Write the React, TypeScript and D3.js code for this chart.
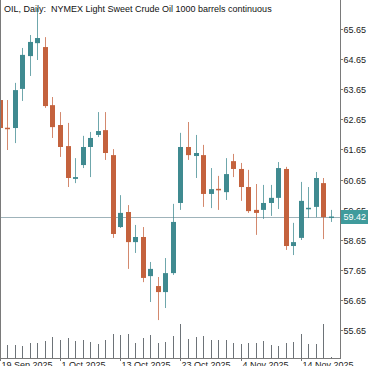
import { useEffect, useRef } from "react";
import * as d3 from "d3";

const dates = [
  "19 Sep", "22 Sep", "23 Sep", "24 Sep", "25 Sep", "26 Sep", "29 Sep", "30 Sep",
  "1 Oct", "2 Oct", "3 Oct", "6 Oct", "7 Oct", "8 Oct", "9 Oct", "10 Oct",
  "13 Oct", "14 Oct", "15 Oct", "16 Oct", "17 Oct", "20 Oct", "21 Oct", "22 Oct",
  "23 Oct", "24 Oct", "27 Oct", "28 Oct", "29 Oct", "30 Oct", "31 Oct",
  "3 Nov", "4 Nov", "5 Nov", "6 Nov", "7 Nov", "10 Nov", "11 Nov", "12 Nov",
  "13 Nov", "14 Nov", "17 Nov", "18 Nov", "19 Nov", "20 Nov",
];

const opens = [
  63.29, 62.37, 62.36, 63.66, 64.75, 65.18, 65.05, 63.12, 62.46, 61.76, 60.67,
  61.13, 61.73, 62.13, 62.29, 61.46, 59.07, 59.57, 58.57, 58.74, 57.44, 57.11,
  56.91, 57.54, 59.87, 61.73, 61.43, 61.46, 60.17, 60.34, 60.23, 61.26, 61.0,
  60.4, 59.64, 59.64, 59.87, 60.04, 61.0, 58.44, 58.71, 59.69, 59.74, 60.53, 59.37,
];
const highs = [
  63.46, 63.29, 63.86, 65.02, 65.45, 66.35, 65.38, 63.39, 62.89, 62.53, 61.36,
  62.1, 62.23, 62.89, 62.89, 61.66, 60.13, 59.8, 59.14, 59.07, 57.91, 57.41,
  58.04, 59.84, 62.2, 62.56, 62.13, 61.8, 61.03, 60.77, 61.36, 61.5, 61.2,
  60.97, 60.5, 60.47, 60.47, 61.23, 61.07, 59.21, 60.57, 60.4, 60.9, 60.7, 59.64,
];
const lows = [
  62.19, 61.63, 61.86, 63.26, 64.09, 64.62, 63.03, 62.03, 61.4, 60.4, 60.53,
  61.03, 60.73, 62.06, 61.3, 58.71, 59.04, 57.68, 58.21, 57.24, 56.58, 55.98,
  56.38, 57.48, 59.64, 61.3, 60.7, 59.74, 59.7, 59.64, 59.97, 60.73, 59.94,
  59.54, 58.81, 59.34, 59.44, 59.67, 58.31, 58.14, 58.64, 59.37, 59.4, 58.67, 59.24,
];
const closes = [
  62.36, 62.35, 63.62, 64.79, 65.22, 65.35, 63.09, 62.39, 61.73, 60.7, 60.73,
  61.73, 62.03, 62.26, 61.53, 58.84, 59.54, 58.57, 58.74, 57.38, 57.68, 56.91,
  57.54, 59.24, 61.73, 61.46, 61.53, 60.17, 60.33, 60.31, 60.83, 61.0, 60.4,
  59.6, 59.54, 59.87, 60.04, 61.03, 58.44, 58.57, 59.94, 59.71, 60.7, 59.4, 59.42,
];
const volumes = [
  14, 13, 13, 12, 15, 15, 17, 21, 18, 20, 17, 18, 16, 14, 18, 24, 23, 24, 15, 20,
  23, 15, 16, 22, 34, 19, 21, 22, 18, 18, 18, 15, 14, 15, 15, 17, 13, 12, 15, 16,
  24, 14, 14, 34, 1,
];

const priceTicks = [65.65, 64.65, 63.65, 62.65, 61.65, 60.65, 59.65, 58.65, 57.65, 56.65, 55.65];
const dateTicks = ["19 Sep", "1 Oct", "13 Oct", "23 Oct", "4 Nov", "14 Nov"];
const lastPrice = 59.42;
const title = "OIL, Daily:  NYMEX Light Sweet Crude Oil 1000 barrels continuous";

const W = 375;
const H = 366;
const UP = "#3f8a90";
const DOWN = "#c4623d";
const FONT = "Liberation Sans, Arial, sans-serif";

export default function App() {
  const svgRef = useRef<SVGSVGElement>(null);

  useEffect(() => {
    const svg = d3.select(svgRef.current!);
    svg.selectAll("*").remove();

    const plotRight = 340;
    const plotBottom = 358;

    const x = d3.scalePoint<string>().domain(dates).range([-0.2, 331]);
    const y = d3.scaleLinear().domain([55.65, 65.65]).range([330, 29]);
    const yVol = d3
      .scaleLinear()
      .domain([0, d3.max(volumes)!])
      .range([plotBottom, plotBottom - 34]);

    svg
      .append("rect")
      .attr("width", W)
      .attr("height", H)
      .attr("fill", "#fff");

    svg
      .append("defs")
      .append("clipPath")
      .attr("id", "plot")
      .append("rect")
      .attr("x", 0)
      .attr("y", 0)
      .attr("width", plotRight)
      .attr("height", plotBottom);

    const g = svg.append("g").attr("clip-path", "url(#plot)");

    // volume sticks
    g.selectAll(".vol")
      .data(volumes)
      .join("line")
      .attr("x1", (_d, i) => Math.round(x(dates[i])!) + 0.5)
      .attr("x2", (_d, i) => Math.round(x(dates[i])!) + 0.5)
      .attr("y1", plotBottom)
      .attr("y2", (d) => yVol(d))
      .attr("stroke", "#6d7378")
      .attr("stroke-width", 1);

    // last price line
    g.append("line")
      .attr("x1", 0)
      .attr("x2", plotRight)
      .attr("y1", Math.round(y(lastPrice)) + 0.5)
      .attr("y2", Math.round(y(lastPrice)) + 0.5)
      .attr("stroke", "#9fb3ba")
      .attr("stroke-width", 1);

    // candles
    const idx = d3.range(dates.length);
    const cx = (i: number) => Math.round(x(dates[i])!) + 0.5;
    const col = (i: number) => (closes[i] >= opens[i] ? UP : DOWN);

    g.selectAll(".wick")
      .data(idx)
      .join("line")
      .attr("x1", cx)
      .attr("x2", cx)
      .attr("y1", (i) => y(highs[i]))
      .attr("y2", (i) => y(lows[i]))
      .attr("stroke", col)
      .attr("stroke-opacity", 0.75)
      .attr("stroke-width", 1);

    const bw = 5;
    g.selectAll(".body")
      .data(idx)
      .join("rect")
      .attr("x", (i) => cx(i) - 0.5 - (bw - 1) / 2)
      .attr("y", (i) => y(Math.max(opens[i], closes[i])))
      .attr("width", bw)
      .attr("height", (i) => Math.max(1.5, Math.abs(y(opens[i]) - y(closes[i]))))
      .attr("fill", col);

    // frame
    const frame = "#7a7a7a";
    svg.append("line").attr("x1", 0.5).attr("x2", 0.5).attr("y1", 0).attr("y2", plotBottom).attr("stroke", frame);
    svg.append("line").attr("x1", plotRight + 0.5).attr("x2", plotRight + 0.5).attr("y1", 0).attr("y2", plotBottom + 0.5).attr("stroke", frame);
    svg.append("line").attr("x1", 0).attr("x2", plotRight + 1).attr("y1", plotBottom + 0.5).attr("y2", plotBottom + 0.5).attr("stroke", frame);

    // price axis
    const pa = svg.append("g");
    priceTicks.forEach((p) => {
      const yy = Math.round(y(p)) + 0.5;
      pa.append("line")
        .attr("x1", plotRight)
        .attr("x2", plotRight + 3)
        .attr("y1", yy)
        .attr("y2", yy)
        .attr("stroke", frame);
      pa.append("text")
        .attr("x", plotRight + 3.5)
        .attr("y", yy)
        .attr("dy", "0.35em")
        .attr("font-family", FONT)
        .attr("font-size", 9)
        .attr("fill", "#222")
        .text(p.toFixed(2));
    });

    // last price tag
    const ly = y(lastPrice);
    svg
      .append("rect")
      .attr("x", plotRight + 1)
      .attr("y", Math.round(ly) - 7)
      .attr("width", 27)
      .attr("height", 14)
      .attr("fill", "#3f9b9c");
    svg
      .append("text")
      .attr("x", plotRight + 3.5)
      .attr("y", ly)
      .attr("dy", "0.35em")
      .attr("font-family", FONT)
      .attr("font-size", 9)
      .attr("fill", "#fff")
      .text(lastPrice.toFixed(2));

    // time axis
    dateTicks.forEach((d) => {
      const xx = Math.round(x(d)!) + 0.5;
      svg
        .append("line")
        .attr("x1", xx)
        .attr("x2", xx)
        .attr("y1", plotBottom)
        .attr("y2", plotBottom + 3)
        .attr("stroke", frame);
      svg
        .append("text")
        .attr("x", Math.max(xx + 1, 1))
        .attr("y", 368)
        .attr("font-family", FONT)
        .attr("font-size", 9)
        .attr("fill", "#222")
        .text(`${d} 2025`);
    });

    // title
    svg
      .append("text")
      .attr("x", 4)
      .attr("y", 12)
      .attr("font-family", FONT)
      .attr("font-size", 9)
      .attr("fill", "#111")
      .style("white-space", "pre")
      .text(title);
  }, []);

  return (
    <svg
      ref={svgRef}
      width={W}
      height={H}
      style={{ position: "absolute", left: 0, top: 0, display: "block" }}
    />
  );
}
